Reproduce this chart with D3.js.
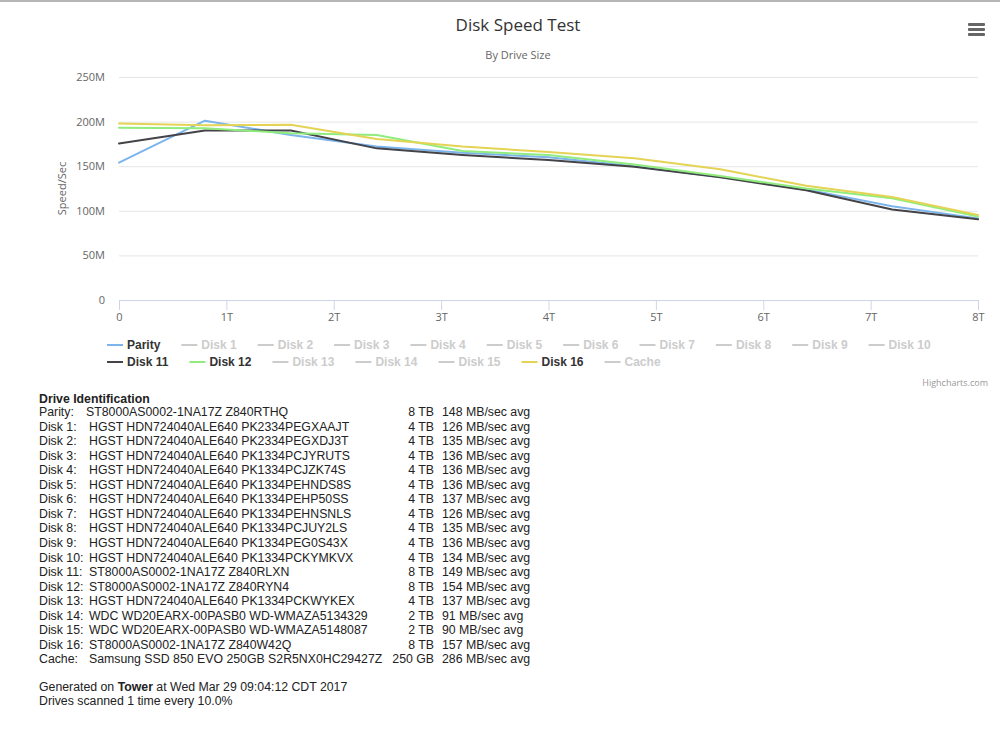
<!DOCTYPE html>
<html>
<head>
<meta charset="utf-8">
<script src="https://cdn.jsdelivr.net/npm/d3@7"></script>
<style>
  body { margin: 0; background: #fff; }
  svg { display: block; }
</style>
</head>
<body>
<div id="DiskSpeedPlot"></div>
<script>
// sample positions, in TB (scan every 10% of an 8TB drive)
const sizeTB = [0, 0.8, 1.6, 2.4, 3.2, 4.0, 4.8, 5.6, 6.4, 7.2, 8.0];

// MB/sec read at each position (visible series only)
const parity = [154, 201, 185, 172, 165, 160, 150, 138, 124, 105, 91.5];
const disk11 = [175.5, 190, 190, 170, 162.5, 157, 149.5, 137.5, 123, 101.5, 90.5];
const disk12 = [193, 192.5, 187, 185, 167, 162.5, 152, 139, 125, 114, 93.5];
const disk16 = [198, 196, 196.5, 180.5, 172, 166, 159, 146.5, 128, 115.5, 95.3];

const yTicks = [0, 50, 100, 150, 200, 250];
const xTicks = [0, 1, 2, 3, 4, 5, 6, 7, 8];

const legendNames = ["Parity", "Disk 1", "Disk 2", "Disk 3", "Disk 4", "Disk 5", "Disk 6",
  "Disk 7", "Disk 8", "Disk 9", "Disk 10", "Disk 11", "Disk 12", "Disk 13", "Disk 14",
  "Disk 15", "Disk 16", "Cache"];

const driveLabels = ["Parity:", "Disk 1:", "Disk 2:", "Disk 3:", "Disk 4:", "Disk 5:", "Disk 6:",
  "Disk 7:", "Disk 8:", "Disk 9:", "Disk 10:", "Disk 11:", "Disk 12:", "Disk 13:", "Disk 14:",
  "Disk 15:", "Disk 16:", "Cache:"];
const driveModels = [
  "ST8000AS0002-1NA17Z Z840RTHQ",
  "HGST HDN724040ALE640 PK2334PEGXAAJT",
  "HGST HDN724040ALE640 PK2334PEGXDJ3T",
  "HGST HDN724040ALE640 PK1334PCJYRUTS",
  "HGST HDN724040ALE640 PK1334PCJZK74S",
  "HGST HDN724040ALE640 PK1334PEHNDS8S",
  "HGST HDN724040ALE640 PK1334PEHP50SS",
  "HGST HDN724040ALE640 PK1334PEHNSNLS",
  "HGST HDN724040ALE640 PK1334PCJUY2LS",
  "HGST HDN724040ALE640 PK1334PEG0S43X",
  "HGST HDN724040ALE640 PK1334PCKYMKVX",
  "ST8000AS0002-1NA17Z Z840RLXN",
  "ST8000AS0002-1NA17Z Z840RYN4",
  "HGST HDN724040ALE640 PK1334PCKWYKEX",
  "WDC WD20EARX-00PASB0 WD-WMAZA5134329",
  "WDC WD20EARX-00PASB0 WD-WMAZA5148087",
  "ST8000AS0002-1NA17Z Z840W42Q",
  "Samsung SSD 850 EVO 250GB S2R5NX0HC29427Z"];
const driveSizes = ["8 TB", "4 TB", "4 TB", "4 TB", "4 TB", "4 TB", "4 TB", "4 TB", "4 TB",
  "4 TB", "4 TB", "8 TB", "8 TB", "4 TB", "2 TB", "2 TB", "8 TB", "250 GB"];
const driveAvg = [148, 126, 135, 136, 136, 136, 137, 126, 135, 136, 134, 149, 154, 137, 91, 90, 157, 286];

// which series are shown, and their colours
const series = [
  { name: "Parity", values: parity, color: "#7cb5ec" },
  { name: "Disk 11", values: disk11, color: "#434348" },
  { name: "Disk 12", values: disk12, color: "#90ed7d" },
  { name: "Disk 16", values: disk16, color: "#e4d354" }
];

let width = 1000, height = 729;
let plotLeft = 119, plotRight = 978, plotTop = 77, plotBottom = 300;
let axisFont = "'Open Sans', 'DejaVu Sans', sans-serif";
let tableFont = "'Liberation Sans', Arial, sans-serif";

let svg = d3.select("#DiskSpeedPlot")
  .append("svg")
  .attr("width", width)
  .attr("height", height);

// top border of the page
svg.append("rect").attr("x", 0).attr("y", 0).attr("width", width).attr("height", 2).attr("fill", "#b5b5b5");

let x = d3.scaleLinear().domain([0, 8]).range([plotLeft, plotRight]);
let y = d3.scaleLinear().domain([0, 250]).range([plotBottom, plotTop]);

// title + subtitle
svg.append("text")
  .attr("x", 518).attr("y", 31)
  .attr("text-anchor", "middle")
  .style("font-family", axisFont).style("font-size", "17px").style("fill", "#333")
  .text("Disk Speed Test");
svg.append("text")
  .attr("x", 518).attr("y", 59)
  .attr("text-anchor", "middle")
  .style("font-family", axisFont).style("font-size", "11px").style("fill", "#666")
  .text("By Drive Size");

// menu icon
let menu = svg.append("g").attr("transform", "translate(968,23)");
[0, 5, 10].forEach(d => {
  menu.append("rect").attr("x", 0).attr("y", d).attr("width", 17).attr("height", 3)
    .attr("rx", 1).attr("fill", "#666");
});

// y grid + labels
let yAxis = d3.axisLeft(y)
  .tickValues(yTicks)
  .tickSize(-(plotRight - plotLeft))
  .tickPadding(14)
  .tickFormat(d => d === 0 ? "0" : d + "M");

let yG = svg.append("g")
  .attr("transform", "translate(" + plotLeft + ",0)")
  .call(yAxis);
yG.select(".domain").remove();
yG.selectAll("line").attr("stroke", "#e6e6e6");
yG.selectAll("text")
  .style("font-family", axisFont).style("font-size", "11px").style("fill", "#666");

svg.append("text")
  .attr("transform", "translate(66," + (plotTop + plotBottom) / 2 + ") rotate(-90)")
  .attr("text-anchor", "middle")
  .style("font-family", axisFont).style("font-size", "11px").style("fill", "#666")
  .text("Speed/Sec");

// x axis
let xAxis = d3.axisBottom(x)
  .tickValues(xTicks)
  .tickSize(10)
  .tickPadding(3)
  .tickFormat(d => d === 0 ? "0" : d + "T");

let xG = svg.append("g")
  .attr("transform", "translate(0," + plotBottom + ")")
  .call(xAxis);
xG.select(".domain").attr("stroke", "#ccd6eb").attr("d", "M" + plotLeft + ",0.5H" + plotRight);
xG.selectAll("line").attr("stroke", "#ccd6eb");
xG.selectAll("text")
  .style("font-family", axisFont).style("font-size", "11px").style("fill", "#666");

// lines
let line = d3.line()
  .x((d, i) => x(sizeTB[i]))
  .y(d => y(d));

svg.selectAll(".DiskSpeedPlot_line")
  .data(series)
  .enter()
  .append("path")
  .attr("class", "DiskSpeedPlot_line")
  .attr("d", d => line(d.values))
  .attr("fill", "none")
  .attr("stroke", d => d.color)
  .attr("stroke-width", 2)
  .attr("stroke-linejoin", "round")
  .attr("stroke-linecap", "round");

// legend
let legend = svg.append("g");
let lx = 107, ly = 345, maxRight = 945;
legendNames.forEach(name => {
  let s = series.find(e => e.name === name);
  let col = s ? s.color : "#cccccc";
  let item = legend.append("g");
  let t = item.append("text")
    .attr("x", 20).attr("y", 4)
    .style("font-family", tableFont).style("font-size", "12px").style("font-weight", "bold")
    .style("fill", s ? "#333" : "#cccccc")
    .text(name);
  let w = t.node().getComputedTextLength();
  if (lx + 20 + w > maxRight) {
    lx = 107;
    ly += 17;
  }
  item.append("line")
    .attr("x1", 0).attr("x2", 16).attr("y1", 0).attr("y2", 0)
    .attr("stroke", col).attr("stroke-width", 2);
  item.attr("transform", "translate(" + lx + "," + ly + ")");
  lx += 20 + w + 21;
});

// credits
svg.append("text")
  .attr("x", 988).attr("y", 386)
  .attr("text-anchor", "end")
  .style("font-family", axisFont).style("font-size", "9px").style("fill", "#999")
  .text("Highcharts.com");

// drive identification table
let table = svg.append("g")
  .style("font-family", tableFont).style("font-size", "12.3px").style("fill", "#222");

table.append("text")
  .attr("x", 39).attr("y", 403)
  .style("font-weight", "bold")
  .text("Drive Identification");

let rowH = 14.55, row0 = 416;
driveLabels.forEach((lab, i) => {
  let ry = row0 + i * rowH;
  table.append("text").attr("x", 39).attr("y", ry).text(lab);
  table.append("text").attr("x", i === 0 ? 86 : 89).attr("y", ry).text(driveModels[i]);
  table.append("text").attr("x", 434).attr("y", ry).attr("text-anchor", "end").text(driveSizes[i]);
  table.append("text").attr("x", 442).attr("y", ry).text(driveAvg[i] + " MB/sec avg");
});

let foot = table.append("text").attr("x", 39).attr("y", 691);
foot.append("tspan").text("Generated on ");
foot.append("tspan").style("font-weight", "bold").text("Tower");
foot.append("tspan").text(" at Wed Mar 29 09:04:12 CDT 2017");
table.append("text").attr("x", 39).attr("y", 705).text("Drives scanned 1 time every 10.0%");
</script>
</body>
</html>
